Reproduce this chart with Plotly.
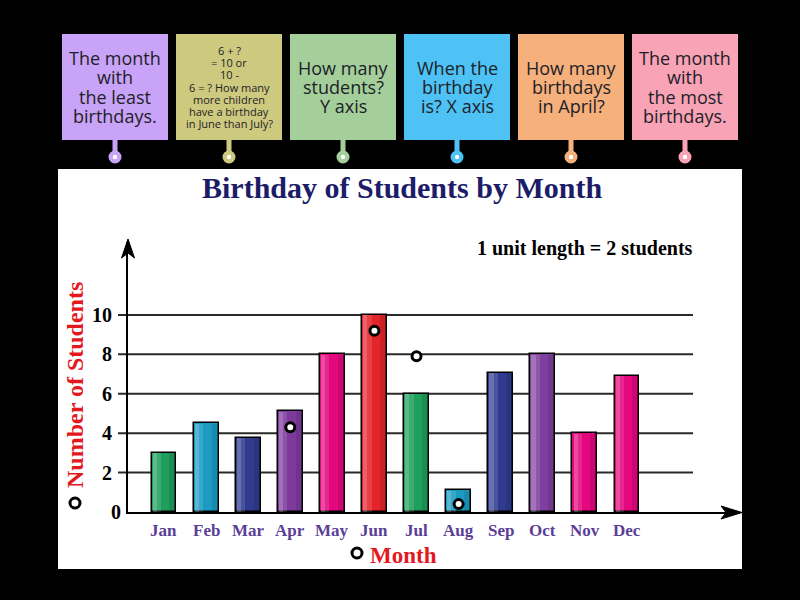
import plotly.graph_objects as go

# ---------------- data ----------------
months = ["Jan", "Feb", "Mar", "Apr", "May", "Jun", "Jul", "Aug", "Sep", "Oct", "Nov", "Dec"]
students = [3, 4.5, 3.75, 5.1, 8, 10, 6, 1.1, 7.05, 8, 4, 6.9]
bar_colors = ["#1f9f5c", "#1b9bc2", "#2f3b8f", "#7d3a9c", "#e4087f", "#e3242a",
              "#1f9f5c", "#1b9bc2", "#2f3b8f", "#7f3f9f", "#e4087f", "#e4087f"]
y_ticks = [0, 2, 4, 6, 8, 10]
hotspot_months = ["Apr", "Jun", "Jul", "Aug"]
hotspot_values = [4.3, 9.2, 7.9, 0.4]

card_lines = [
    ["The month", "with", "the least", "birthdays."],
    ["6 + ?", "= 10 or", "10 -", "6 = ? How many", "more children", "have a birthday", "in June than July?"],
    ["How many", "students?", "Y axis"],
    ["When the", "birthday", "is? X axis"],
    ["How many", "birthdays", "in April?"],
    ["The month", "with", "the most", "birthdays."],
]
card_colors = ["#c9a3f7", "#cdc97e", "#a4cf9b", "#4ec2f5", "#f6b07b", "#f9a3b6"]
card_font_sizes = [18, 11, 18, 18, 18, 18]

title_text = "Birthday of Students by Month"
unit_text = "1 unit length = 2 students"
y_title = "Number of Students"
x_title = "Month"

# ---------------- helpers ----------------
W, H = 800, 600
def px(x):
    return x / W
def py(y):
    return 1 - y / H

SERIF = "Liberation Serif, Times New Roman, serif"
SANS = "Open Sans, Noto Sans, sans-serif"

fig = go.Figure()

# main bars
fig.add_trace(go.Bar(
    x=months, y=students, width=0.59,
    marker=dict(color=bar_colors, line=dict(color="black", width=1.5)),
    hoverinfo="skip", showlegend=False,
))
# gradient-like highlights on left side of bars
fig.add_trace(go.Bar(
    x=months, y=[v - 0.04 for v in students], base=0.02, width=0.1, offset=-0.27,
    marker=dict(color="rgba(255,255,255,0.28)", line=dict(width=0)),
    hoverinfo="skip", showlegend=False,
))
fig.add_trace(go.Bar(
    x=months, y=[v - 0.04 for v in students], base=0.02, width=0.1, offset=-0.17,
    marker=dict(color="rgba(255,255,255,0.13)", line=dict(width=0)),
    hoverinfo="skip", showlegend=False,
))
fig.add_trace(go.Bar(
    x=months, y=[v - 0.04 for v in students], base=0.02, width=0.14, offset=0.13,
    marker=dict(color="rgba(0,0,0,0.10)", line=dict(width=0)),
    hoverinfo="skip", showlegend=False,
))

# hotspots
fig.add_trace(go.Scatter(
    x=hotspot_months, y=hotspot_values, mode="markers",
    marker=dict(size=9, color="white", line=dict(color="black", width=3)),
    hoverinfo="skip", showlegend=False,
))

shapes = []
annotations = []

# white panel
shapes.append(dict(type="rect", xref="paper", yref="paper", layer="below",
                   x0=px(58), x1=px(742), y0=py(569), y1=py(169),
                   fillcolor="white", line=dict(width=0)))

# gridlines
for v in y_ticks:
    if v == 0:
        continue
    shapes.append(dict(type="line", xref="paper", yref="y", layer="below",
                       x0=px(118), x1=px(693), y0=v, y1=v,
                       line=dict(color="#2a2a2a", width=2)))

# arrowheads
def path(points):
    s = "M " + " L ".join(f"{px(a):.5f},{py(b):.5f}" for a, b in points) + " Z"
    return s
shapes.append(dict(type="path", xref="paper", yref="paper",
                   path=path([(128, 239), (121.5, 258), (128, 253), (134.5, 258)]),
                   fillcolor="black", line=dict(color="black", width=1)))
shapes.append(dict(type="path", xref="paper", yref="paper",
                   path=path([(742, 512.5), (721, 506), (726, 512.5), (721, 519)]),
                   fillcolor="black", line=dict(color="black", width=1)))

# extra hotspots near axis titles
for cx, cy in [(75, 503), (357, 553)]:
    shapes.append(dict(type="circle", xref="paper", yref="paper",
                       x0=px(cx - 5), x1=px(cx + 5), y0=py(cy + 5), y1=py(cy - 5),
                       fillcolor="white", line=dict(color="black", width=3)))

# cards
for i, (lines, col, fs) in enumerate(zip(card_lines, card_colors, card_font_sizes)):
    x0 = 62 + i * 114
    cx = x0 + 53
    shapes.append(dict(type="rect", xref="paper", yref="paper",
                       x0=px(x0), x1=px(x0 + 106), y0=py(140), y1=py(34),
                       fillcolor=col, line=dict(width=0)))
    shapes.append(dict(type="rect", xref="paper", yref="paper",
                       x0=px(cx - 2.5), x1=px(cx + 2.5), y0=py(153), y1=py(140),
                       fillcolor=col, line=dict(width=0)))
    shapes.append(dict(type="circle", xref="paper", yref="paper",
                       x0=px(cx - 6.5), x1=px(cx + 6.5), y0=py(163.5), y1=py(150.5),
                       fillcolor=col, line=dict(width=0)))
    shapes.append(dict(type="circle", xref="paper", yref="paper",
                       x0=px(cx - 2.2), x1=px(cx + 2.2), y0=py(159.2), y1=py(154.8),
                       fillcolor="white", line=dict(width=0)))
    spacing = 19.3 if fs > 14 else 12.3
    n = len(lines)
    for j, t in enumerate(lines):
        yc = 87 + (j - (n - 1) / 2) * spacing
        annotations.append(dict(text=t, x=px(cx), y=py(yc), xref="paper", yref="paper",
                                xanchor="center", yanchor="middle", showarrow=False,
                                font=dict(family=SANS, size=fs, color="#1d2228")))

# title and unit note
annotations.append(dict(text=f"<b>{title_text}</b>", x=px(402), y=py(187), xref="paper", yref="paper",
                        xanchor="center", yanchor="middle", showarrow=False,
                        font=dict(family=SERIF, size=30, color="#1c1c68")))
annotations.append(dict(text=f"<b>{unit_text}</b>", x=px(585), y=py(248), xref="paper", yref="paper",
                        xanchor="center", yanchor="middle", showarrow=False,
                        font=dict(family=SERIF, size=20, color="black")))

# y tick labels
for v in y_ticks:
    xr = 123 if v == 0 else 114
    annotations.append(dict(text=f"<b>{v}</b>", x=px(xr), y=v, xref="paper", yref="y",
                            xanchor="right", yanchor="middle", showarrow=False,
                            font=dict(family=SERIF, size=20, color="black")))
# x tick labels
for m in months:
    annotations.append(dict(text=f"<b>{m}</b>", x=m, y=py(530), xref="x", yref="paper",
                            xanchor="center", yanchor="middle", showarrow=False,
                            font=dict(family=SERIF, size=17, color="#5b3e96")))

# axis titles
annotations.append(dict(text=f"<b>{y_title}</b>", x=px(75), y=py(385), xref="paper", yref="paper",
                        xanchor="center", yanchor="middle", showarrow=False, textangle=-90,
                        font=dict(family=SERIF, size=24, color="#e3191f")))
annotations.append(dict(text=f"<b>{x_title}</b>", x=px(403), y=py(555), xref="paper", yref="paper",
                        xanchor="center", yanchor="middle", showarrow=False,
                        font=dict(family=SERIF, size=23, color="#e3191f")))

fig.update_layout(
    width=W, height=H,
    margin=dict(l=0, r=0, t=0, b=0),
    paper_bgcolor="black", plot_bgcolor="rgba(0,0,0,0)",
    barmode="overlay", bargap=0,
    showlegend=False,
    shapes=shapes, annotations=annotations,
    xaxis=dict(type="category", categoryorder="array", categoryarray=months,
               range=[-0.855, 13.685], domain=[px(128), px(740)],
               showgrid=False, zeroline=False, showticklabels=False, ticks="",
               showline=True, linecolor="black", linewidth=2, fixedrange=True),
    yaxis=dict(range=[0, 13.7], domain=[py(512), py(242)],
               showgrid=False, zeroline=False, showticklabels=False, ticks="",
               showline=True, linecolor="black", linewidth=2, fixedrange=True),
)

fig.write_html("out.html")
